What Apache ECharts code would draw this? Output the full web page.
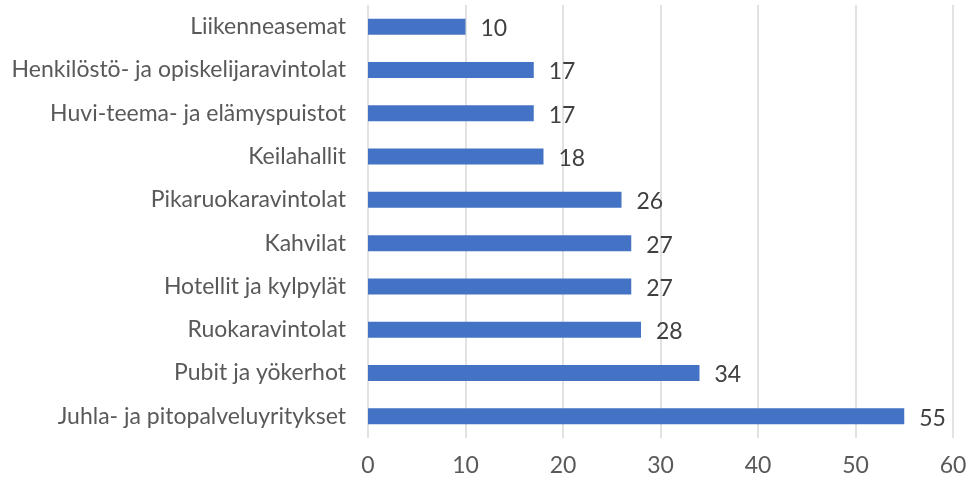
<!DOCTYPE html>
<html>
<head>
<meta charset="utf-8">
<script src="https://cdn.jsdelivr.net/npm/echarts@6/dist/echarts.min.js"></script>
<style>
  html, body { margin: 0; padding: 0; background: #fff; }
  #chart { width: 974px; height: 481px; }
</style>
</head>
<body>
<div id="chart"></div>
<script>
// categories bottom -> top (ECharts category y axis starts at the bottom)
const categories = [
  'Juhla- ja pitopalveluyritykset',
  'Pubit ja yökerhot',
  'Ruokaravintolat',
  'Hotellit ja kylpylät',
  'Kahvilat',
  'Pikaruokaravintolat',
  'Keilahallit',
  'Huvi-teema- ja elämyspuistot',
  'Henkilöstö- ja opiskelijaravintolat',
  'Liikenneasemat'
];
const values = [55, 34, 28, 27, 27, 26, 18, 17, 17, 10];

const textColor = '#595959';
const font = 'Lato';

const chart = echarts.init(document.getElementById('chart'));
chart.setOption({
  animation: false,
  grid: { left: 368, right: 21, top: 5, bottom: 43, containLabel: false },
  xAxis: {
    type: 'value',
    min: 0,
    max: 60,
    interval: 10,
    axisLine: { show: false },
    axisTick: { show: false },
    splitLine: { lineStyle: { color: '#d9d9d9', width: 1.5 } },
    axisLabel: { color: textColor, fontFamily: font, fontSize: 23, margin: 16 }
  },
  yAxis: {
    type: 'category',
    data: categories,
    axisLine: { show: false },
    axisTick: { show: false },
    axisLabel: { color: textColor, fontFamily: font, fontSize: 23, margin: 22 }
  },
  series: [{
    type: 'bar',
    data: values,
    barWidth: 16,
    itemStyle: { color: '#4472c4' },
    label: {
      show: true,
      position: 'right',
      distance: 15,
      color: '#404040',
      fontFamily: font,
      fontSize: 23,
      offset: [0, 2]
    }
  }]
});
</script>
</body>
</html>
